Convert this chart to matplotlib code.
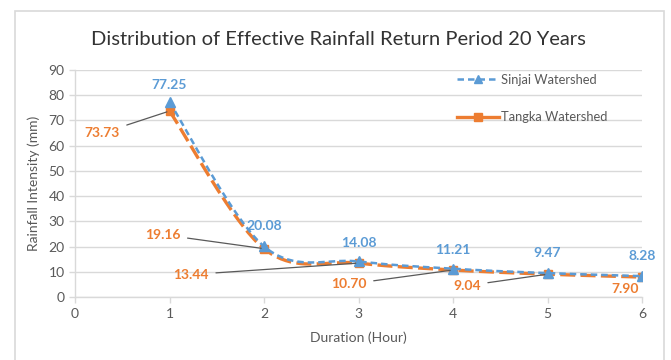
import numpy as np
import matplotlib
matplotlib.use("Agg")
import matplotlib.pyplot as plt
from matplotlib.patches import Rectangle
from matplotlib.lines import Line2D

plt.rcParams['font.family'] = ['Lato', 'DejaVu Sans']

# Data
duration = [1, 2, 3, 4, 5, 6]
sinjai = [77.25, 20.08, 14.08, 11.21, 9.47, 8.28]
tangka = [73.73, 19.16, 13.44, 10.70, 9.04, 7.90]
series_names = ["Sinjai Watershed", "Tangka Watershed"]

# Label positions (data units) for the value annotations
sinjai_label_pos = [(1.0, 84.2), (2.0, 28.0), (3.0, 21.6), (4.0, 18.7), (5.0, 17.3), (6.0, 16.3)]
tangka_label_pos = [(0.29, 65.0), (0.93, 24.7), (1.23, 8.9), (2.9, 5.1), (4.15, 4.5), (5.82, 3.3)]
tangka_leader = [True, True, True, True, True, False]

BLUE = "#5B9BD5"
ORANGE = "#ED7D31"
GREY = "#595959"


def smooth(x, y, n=40):
    """Bezier smoothing through every point (Catmull-Rom style tangents)."""
    x = np.asarray(x, float)
    y = np.asarray(y, float)
    px = np.concatenate([[x[0]], x, [x[-1]]])
    py = np.concatenate([[y[0]], y, [y[-1]]])
    xs, ys = [], []
    t = np.linspace(0, 1, n)
    for i in range(1, len(px) - 2):
        p0 = np.array([px[i], py[i]])
        p3 = np.array([px[i + 1], py[i + 1]])
        c1 = p0 + (np.array([px[i + 1], py[i + 1]]) - np.array([px[i - 1], py[i - 1]])) / 6
        c2 = p3 - (np.array([px[i + 2], py[i + 2]]) - np.array([px[i], py[i]])) / 6
        b = ((1 - t) ** 3)[:, None] * p0 + (3 * (1 - t) ** 2 * t)[:, None] * c1 \
            + (3 * (1 - t) * t ** 2)[:, None] * c2 + (t ** 3)[:, None] * p3
        xs.append(b[:, 0])
        ys.append(b[:, 1])
    return np.concatenate(xs), np.concatenate(ys)


fig = plt.figure(figsize=(6.71, 3.60), dpi=100)
fig.patch.set_facecolor("white")

# Chart-area border
fig.add_artist(Rectangle((0.022, -0.05), 0.9675, 1.019, transform=fig.transFigure,
                         fill=False, edgecolor="#D9D9D9", linewidth=1.2))

ax = fig.add_axes([0.1118, 0.175, 0.845, 0.6306])

ax.set_xlim(0, 6)
ax.set_ylim(0, 90)
ax.set_xticks(range(0, 7))
ax.set_yticks(range(0, 91, 10))
ax.yaxis.grid(True, color="#D9D9D9", linewidth=1.0)
ax.set_axisbelow(True)
for s in ["top", "right"]:
    ax.spines[s].set_visible(False)
for s in ["left", "bottom"]:
    ax.spines[s].set_color("#D9D9D9")
    ax.spines[s].set_linewidth(1.0)
ax.tick_params(axis="both", colors="#D9D9D9", labelcolor=GREY, labelsize=10, length=4, width=1.0)
ax.tick_params(axis="x", pad=4)

sx, sy = smooth(duration, sinjai)
tx, ty = smooth(duration, tangka)

ax.plot(tx, ty, color=ORANGE, linewidth=2.4, dashes=(4.5, 1.6), zorder=3)
ax.plot(duration, tangka, linestyle="none", marker="s", markersize=6,
        color=ORANGE, zorder=4)
ax.plot(sx, sy, color=BLUE, linewidth=1.8, dashes=(2.6, 1.6), zorder=5)
ax.plot(duration, sinjai, linestyle="none", marker="^", markersize=6.5,
        color=BLUE, zorder=6)

# Value labels
for xv, yv, (lx, ly) in zip(duration, sinjai, sinjai_label_pos):
    ax.text(lx, ly, f"{yv:.2f}", color=BLUE, fontsize=10, fontweight="bold",
            ha="center", va="center", zorder=7)

for xv, yv, (lx, ly), lead in zip(duration, tangka, tangka_label_pos, tangka_leader):
    if lead:
        ax.annotate(f"{yv:.2f}", xy=(xv, yv), xytext=(lx, ly),
                    color=ORANGE, fontsize=10, fontweight="bold",
                    ha="center", va="center", zorder=7,
                    arrowprops=dict(arrowstyle="-", color=GREY, linewidth=0.9,
                                    shrinkA=3, shrinkB=2))
    else:
        ax.text(lx, ly, f"{yv:.2f}", color=ORANGE, fontsize=10, fontweight="bold",
                ha="center", va="center", zorder=7)

# Legend
handles = [
    Line2D([], [], color=BLUE, linewidth=1.8, dashes=(2.6, 1.6), marker="^", markersize=6),
    Line2D([], [], color=ORANGE, linewidth=2.4, marker="s", markersize=6),
]
ax.legend(handles, series_names, loc="upper left", bbox_to_anchor=(0.654, 1.035),
          frameon=False, fontsize=9.3, labelcolor=GREY, handlelength=3.2,
          handletextpad=0.2, labelspacing=2.0)

ax.set_xlabel("Duration (Hour)", color=GREY, fontsize=10, labelpad=8)
ax.set_ylabel("Rainfall Intensity (mm)", color=GREY, fontsize=10, labelpad=6)

fig.text(0.504, 0.889, "Distribution of Effective Rainfall Return Period 20 Years",
         ha="center", va="center", fontsize=14.5, color="#333333")

fig.savefig("out.png", dpi=100, facecolor="white")
